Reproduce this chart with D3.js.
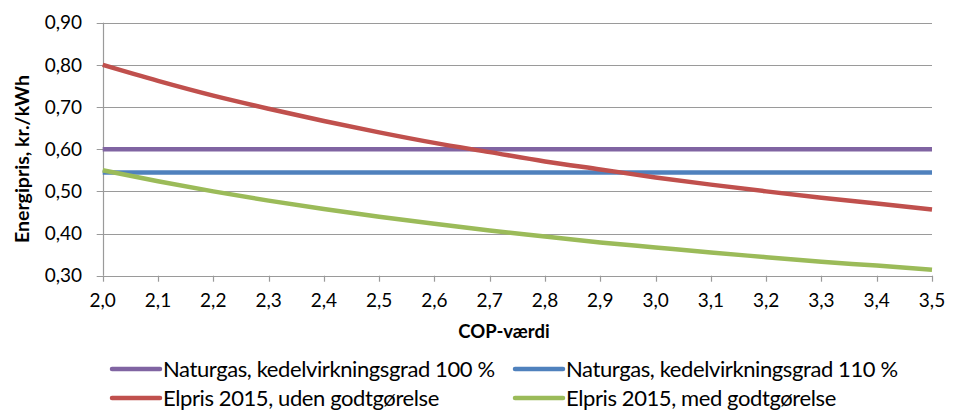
<!DOCTYPE html>
<html><head><meta charset="utf-8">
<script src="https://cdn.jsdelivr.net/npm/d3@7"></script>
<style>body{margin:0;background:#fff;} svg{display:block;font-family:Lato,"Open Sans",sans-serif;}</style>
</head><body>
<svg id="c" width="961" height="412"></svg>
<script>
const cop = [2.0,2.1,2.2,2.3,2.4,2.5,2.6,2.7,2.8,2.9,3.0,3.1,3.2,3.3,3.4,3.5];
const naturgas100 = [0.600,0.600,0.600,0.600,0.600,0.600,0.600,0.600,0.600,0.600,0.600,0.600,0.600,0.600,0.600,0.600];
const naturgas110 = [0.545,0.545,0.545,0.545,0.545,0.545,0.545,0.545,0.545,0.545,0.545,0.545,0.545,0.545,0.545,0.545];
const elprisUden = [0.800,0.762,0.727,0.696,0.667,0.640,0.615,0.593,0.571,0.552,0.533,0.516,0.500,0.485,0.471,0.457];
const elprisMed  = [0.550,0.524,0.500,0.478,0.458,0.440,0.423,0.407,0.393,0.379,0.367,0.355,0.344,0.333,0.324,0.314];
const yTicks = [0.30,0.40,0.50,0.60,0.70,0.80,0.90];
const xTicks = [2.0,2.1,2.2,2.3,2.4,2.5,2.6,2.7,2.8,2.9,3.0,3.1,3.2,3.3,3.4,3.5];
const seriesNames = ["Naturgas, kedelvirkningsgrad 100 %","Naturgas, kedelvirkningsgrad 110 %","Elpris 2015, uden godtgørelse","Elpris 2015, med godtgørelse"];
const seriesColors = ["#8064A2","#4F81BD","#C0504D","#9BBB59"];
const seriesValues = [naturgas100, naturgas110, elprisUden, elprisMed];

const svg = d3.select("#c");
const L = 102.7, R = 932, T = 22.7, B = 275.7;
const x = d3.scaleLinear().domain([2.0,3.5]).range([L,R]);
const y = d3.scaleLinear().domain([0.30,0.90]).range([B,T]);
const fmt = d => d3.format(".2f")(d).replace(".",",");
const fmtx = d => d3.format(".1f")(d).replace(".",",");
const gridCol = "#9a9a9a";

// gridlines
svg.append("g").selectAll("line").data(yTicks).join("line")
  .attr("x1",L-6).attr("x2",R).attr("y1",d=>Math.round(y(d))+0.5).attr("y2",d=>Math.round(y(d))+0.5)
  .attr("stroke",gridCol).attr("stroke-width",1.2);
// y axis line
svg.append("line").attr("x1",Math.round(L)+0.5).attr("x2",Math.round(L)+0.5).attr("y1",T).attr("y2",B)
  .attr("stroke",gridCol).attr("stroke-width",1.2);
// x ticks
svg.append("g").selectAll("line").data(xTicks).join("line")
  .attr("x1",d=>Math.round(x(d))+0.5).attr("x2",d=>Math.round(x(d))+0.5)
  .attr("y1",B).attr("y2",B+6).attr("stroke",gridCol).attr("stroke-width",1.2);
// y labels
svg.append("g").selectAll("text").data(yTicks).join("text")
  .attr("x",82).attr("y",d=>y(d)).attr("dy","0.35em").attr("text-anchor","end")
  .attr("font-size",19).attr("fill","#000").text(fmt);
// x labels
svg.append("g").selectAll("text").data(xTicks).join("text")
  .attr("x",d=>x(d)).attr("y",307).attr("text-anchor","middle")
  .attr("font-size",19).attr("fill","#000").text(fmtx);
// axis titles
svg.append("text").attr("x",504).attr("y",338).attr("text-anchor","middle")
  .attr("font-size",18.5).attr("font-weight","bold").text("COP-værdi");
svg.append("text").attr("transform","translate(29,159) rotate(-90)").attr("text-anchor","middle")
  .attr("font-size",19.5).attr("font-weight","bold").text("Energipris, kr./kWh");

// lines
const line = d3.line().x((d,i)=>x(cop[i])).y(d=>y(d)).curve(d3.curveMonotoneX);
svg.append("g").selectAll("path").data(seriesValues).join("path")
  .attr("d",line).attr("fill","none").attr("stroke",(d,i)=>seriesColors[i])
  .attr("stroke-width",4.5).attr("stroke-linecap","butt");

// legend
const legPos = [[112,369],[515,369],[112,398],[515,398]];
const lg = svg.append("g").selectAll("g").data(seriesNames).join("g")
  .attr("transform",(d,i)=>`translate(${legPos[i][0]},${legPos[i][1]})`);
lg.append("line").attr("x1",0).attr("x2",48).attr("y1",0).attr("y2",0)
  .attr("stroke",(d,i)=>seriesColors[i]).attr("stroke-width",4.5).attr("stroke-linecap","round");
lg.append("text").attr("x",51).attr("y",0).attr("dy","0.36em")
  .attr("font-size",22).attr("letter-spacing","-0.4px").text(d=>d);
</script>
</body></html>
